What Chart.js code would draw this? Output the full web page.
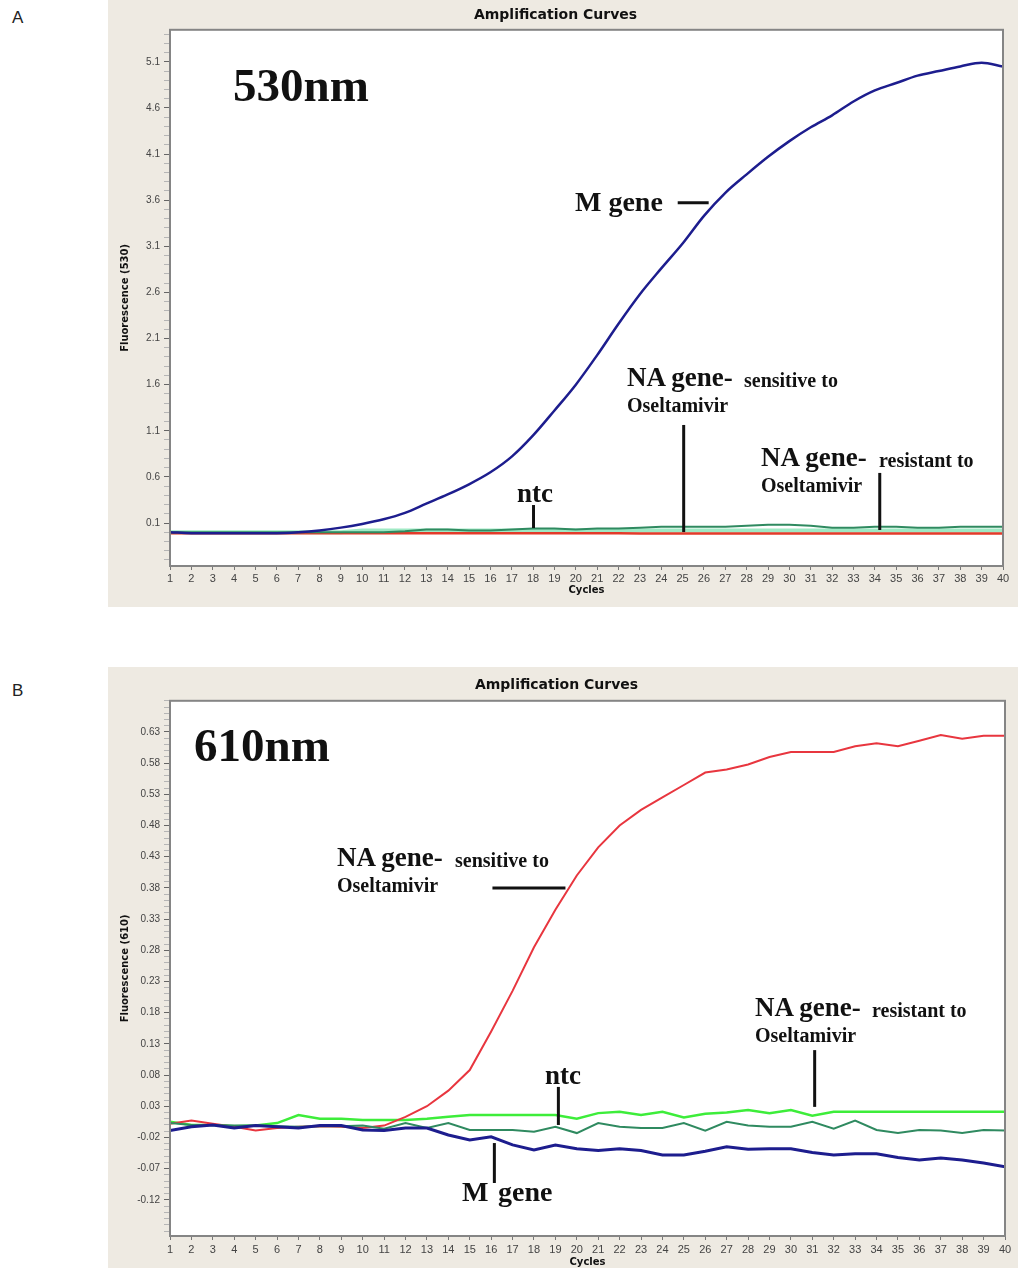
<!DOCTYPE html>
<html>
<head>
<meta charset="utf-8">
<script src="https://cdn.jsdelivr.net/npm/chart.js@4.4.1/dist/chart.umd.min.js"></script>
<style>
  html, body { margin: 0; padding: 0; background: #fff; }
  body { width: 1018px; height: 1268px; position: relative; overflow: hidden; font-family: Arial, 'Liberation Sans', sans-serif; }
  .panel { position: absolute; left: 108px; width: 910px; background: #eeeae2; }
  .letter { position: absolute; left: 12px; font-size: 17px; color: #222; }
  .lab { position: absolute; font-family: 'Liberation Serif', 'Times New Roman', serif; font-weight: bold; color: #111; white-space: nowrap; line-height: 1; }
</style>
</head>
<body>
<div class="letter" style="top:8px">A</div>
<div class="letter" style="top:681px">B</div>

<div class="panel" style="top:0; height:607px"><canvas id="chartA" width="910" height="607"></canvas></div>
<div class="panel" style="top:667px; height:601px"><canvas id="chartB" width="910" height="601"></canvas></div>

<!-- labels, panel A -->
<div class="lab" style="left:233px; top:62px; font-size:47px">530nm</div>
<div class="lab" style="left:575px; top:188px; font-size:28px">M gene</div>
<div class="lab" style="left:627px; top:364px; font-size:27px">NA gene-</div>
<div class="lab" style="left:744px; top:370px; font-size:20px">sensitive to</div>
<div class="lab" style="left:627px; top:395px; font-size:20px">Oseltamivir</div>
<div class="lab" style="left:517px; top:480px; font-size:27px">ntc</div>
<div class="lab" style="left:761px; top:444px; font-size:27px">NA gene-</div>
<div class="lab" style="left:879px; top:450px; font-size:20px">resistant to</div>
<div class="lab" style="left:761px; top:475px; font-size:20px">Oseltamivir</div>

<!-- labels, panel B -->
<div class="lab" style="left:194px; top:722px; font-size:47px">610nm</div>
<div class="lab" style="left:337px; top:844px; font-size:27px">NA gene-</div>
<div class="lab" style="left:455px; top:850px; font-size:20px">sensitive to</div>
<div class="lab" style="left:337px; top:875px; font-size:20px">Oseltamivir</div>
<div class="lab" style="left:545px; top:1062px; font-size:27px">ntc</div>
<div class="lab" style="left:755px; top:994px; font-size:27px">NA gene-</div>
<div class="lab" style="left:872px; top:1000px; font-size:20px">resistant to</div>
<div class="lab" style="left:755px; top:1025px; font-size:20px">Oseltamivir</div>
<div class="lab" style="left:462px; top:1178px; font-size:28px">M</div>
<div class="lab" style="left:498px; top:1178px; font-size:28px">gene</div>

<script>
const cycles = [1, 2, 3, 4, 5, 6, 7, 8, 9, 10, 11, 12, 13, 14, 15, 16, 17, 18, 19, 20,
  21, 22, 23, 24, 25, 26, 27, 28, 29, 30, 31, 32, 33, 34, 35, 36, 37, 38, 39, 40];

// 530 nm channel
const mGene530 = [0.0, -0.01, -0.01, -0.01, -0.01, -0.01, 0.0, 0.02, 0.05, 0.09,
  0.14, 0.21, 0.31, 0.41, 0.52, 0.65, 0.82, 1.05, 1.32, 1.6,
  1.92, 2.26, 2.58, 2.86, 3.13, 3.43, 3.68, 3.88, 4.07, 4.24,
  4.39, 4.52, 4.67, 4.79, 4.87, 4.95, 5.0, 5.05, 5.09, 5.05];
const naSens530 = [-0.01, -0.01, -0.01, -0.01, -0.01, -0.01, -0.01, -0.01, -0.01, -0.01,
  -0.01, -0.01, -0.01, -0.01, -0.01, -0.01, -0.01, -0.01, -0.01, -0.01,
  -0.01, -0.01, -0.015, -0.015, -0.015, -0.015, -0.015, -0.015, -0.015, -0.015,
  -0.015, -0.015, -0.015, -0.015, -0.015, -0.015, -0.015, -0.015, -0.015, -0.015];
const naRes530 = [0.0, 0.0, 0.0, 0.0, 0.0, 0.0, 0.0, 0.0, 0.0, 0.02,
  0.02, 0.02, 0.02, 0.02, 0.02, 0.02, 0.02, 0.02, 0.02, 0.02,
  0.02, 0.02, 0.02, 0.02, 0.02, 0.02, 0.02, 0.02, 0.02, 0.02,
  0.02, 0.02, 0.02, 0.02, 0.02, 0.02, 0.02, 0.02, 0.02, 0.02];
const ntc530 = [0.0, 0.0, 0.0, 0.0, 0.0, 0.0, 0.0, 0.0, 0.0, 0.0,
  0.0, 0.01, 0.03, 0.03, 0.02, 0.02, 0.03, 0.04, 0.04, 0.03,
  0.04, 0.04, 0.05, 0.06, 0.06, 0.06, 0.06, 0.07, 0.08, 0.08,
  0.07, 0.05, 0.05, 0.06, 0.06, 0.05, 0.05, 0.06, 0.06, 0.06];
const ticks530 = [0.1, 0.6, 1.1, 1.6, 2.1, 2.6, 3.1, 3.6, 4.1, 4.6, 5.1];

// 610 nm channel
const naSens610 = [0.002, 0.007, 0.002, -0.003, -0.009, -0.005, -0.003, -0.002, -0.003, -0.005,
  -0.001, 0.013, 0.03, 0.055, 0.088, 0.15, 0.215, 0.285, 0.345, 0.4,
  0.445, 0.48, 0.505, 0.525, 0.545, 0.565, 0.57, 0.578, 0.59, 0.598,
  0.598, 0.598, 0.607, 0.612, 0.607, 0.616, 0.625, 0.619, 0.624, 0.624];
const naRes610 = [0.005, 0.0, 0.0, -0.002, -0.001, 0.003, 0.016, 0.01, 0.01, 0.008,
  0.008, 0.008, 0.01, 0.013, 0.016, 0.016, 0.016, 0.016, 0.016, 0.01,
  0.019, 0.021, 0.016, 0.021, 0.012, 0.018, 0.02, 0.024, 0.019, 0.024,
  0.015, 0.021, 0.021, 0.021, 0.021, 0.021, 0.021, 0.021, 0.021, 0.021];
const ntc610 = [0.003, 0.0, 0.0, -0.001, -0.001, -0.002, -0.003, -0.002, -0.002, -0.001,
  -0.006, 0.003, -0.005, 0.003, -0.008, -0.008, -0.008, -0.011, -0.003, -0.013,
  0.003, -0.003, -0.005, -0.005, 0.003, -0.009, 0.005, -0.001, -0.003, -0.003,
  0.005, -0.006, 0.007, -0.008, -0.013, -0.008, -0.009, -0.013, -0.008, -0.009];
const mGene610 = [-0.009, -0.003, 0.0, -0.005, -0.001, -0.003, -0.005, -0.001, -0.001, -0.008,
  -0.009, -0.005, -0.005, -0.016, -0.024, -0.019, -0.032, -0.04, -0.032, -0.038,
  -0.041, -0.038, -0.041, -0.048, -0.048, -0.042, -0.035, -0.039, -0.038, -0.038,
  -0.044, -0.048, -0.046, -0.046, -0.052, -0.056, -0.053, -0.056, -0.061, -0.067];
const ticks610 = [-0.12, -0.07, -0.02, 0.03, 0.08, 0.13, 0.18, 0.23, 0.28, 0.33, 0.38, 0.43, 0.48, 0.53, 0.58, 0.63];

const colors = {
  mGene: '#1d1d8e',
  naSens: '#e33a2a',
  naSensB: '#e8363f',
  naRes: '#9fe9c4',
  naResB: '#3ded3a',
  ntc: '#2f8a60'
};

const toXY = vals => vals.map((v, i) => ({ x: cycles[i], y: v }));

const plotFrame = {
  id: 'plotFrame',
  beforeDraw(chart) {
    const { ctx, chartArea: a } = chart;
    ctx.save();
    ctx.fillStyle = '#ffffff';
    ctx.fillRect(a.left, a.top, a.right - a.left, a.bottom - a.top);
    ctx.restore();
  },
  afterDraw(chart) {
    const { ctx, chartArea: a } = chart;
    ctx.save();
    ctx.strokeStyle = '#858585';
    ctx.lineWidth = 2;
    ctx.strokeRect(a.left, a.top, a.right - a.left, a.bottom - a.top);
    ctx.restore();
  }
};

// leader lines from the labels to the curves, given in data units
const leaders = {
  id: 'leaders',
  afterDatasetsDraw(chart, args, opts) {
    const { ctx, scales: { x, y } } = chart;
    ctx.save();
    ctx.strokeStyle = '#111';
    ctx.lineWidth = 3;
    (opts.segments || []).forEach(s => {
      ctx.beginPath();
      ctx.moveTo(x.getPixelForValue(s.x1), y.getPixelForValue(s.y1));
      ctx.lineTo(x.getPixelForValue(s.x2), y.getPixelForValue(s.y2));
      ctx.stroke();
    });
    ctx.restore();
  }
};

function makeChart(id, cfg) {
  const minor = cfg.minorStep;
  return new Chart(document.getElementById(id), {
    type: 'line',
    data: { datasets: cfg.datasets },
    plugins: [plotFrame, leaders],
    options: {
      responsive: false,
      animation: false,
      layout: { padding: { left: 0, right: cfg.padRight, top: 0, bottom: 0 } },
      elements: { point: { radius: 0 } },
      plugins: {
        legend: { display: false },
        tooltip: { enabled: false },
        title: {
          display: true,
          text: 'Amplification Curves',
          color: '#111',
          font: { family: 'DejaVu Sans', size: 14, weight: 'bold' },
          padding: cfg.titlePad
        },
        leaders: { segments: cfg.segments }
      },
      scales: {
        x: {
          type: 'linear',
          min: 1,
          max: 40,
          afterBuildTicks: s => { s.ticks = cycles.map(c => ({ value: c })); },
          afterFit: s => { s.height = cfg.xHeight; },
          ticks: {
            autoSkip: false,
            maxRotation: 0,
            padding: cfg.xTickPad,
            color: '#444',
            font: { family: 'Liberation Sans', size: 11 },
            callback: v => String(v)
          },
          grid: { drawOnChartArea: false, tickLength: 4, color: '#777' },
          border: { color: '#858585', width: 2 },
          title: {
            display: true,
            text: 'Cycles',
            color: '#111',
            font: { family: 'DejaVu Sans', size: 10, weight: 'bold' },
            padding: { top: 0, bottom: cfg.xTitlePad }
          }
        },
        y: {
          type: 'linear',
          min: cfg.yMin,
          max: cfg.yMax,
          afterBuildTicks: s => {
            const out = [];
            const lo = Math.ceil(cfg.yMin / minor), hi = Math.floor(cfg.yMax / minor);
            for (let i = lo; i <= hi; i++) {
              const v = +(i * minor).toFixed(3);
              out.push({ value: v, major: cfg.yTicks.some(t => Math.abs(t - v) < minor / 10) });
            }
            s.ticks = out;
          },
          afterFit: s => { s.width = 62; },
          ticks: {
            autoSkip: false,
            padding: 4,
            color: '#444',
            font: { family: 'Liberation Sans', size: 10 },
            callback: function (v) {
              return cfg.yTicks.some(t => Math.abs(t - v) < minor / 10) ? v.toFixed(cfg.decimals) : '';
            }
          },
          grid: {
            drawOnChartArea: false,
            tickLength: 6,
            color: ctx => (ctx.tick && ctx.tick.major ? '#666' : '#b5b5b5')
          },
          border: { color: '#858585', width: 2 },
          title: {
            display: true,
            text: cfg.yTitle,
            color: '#111',
            font: { family: 'DejaVu Sans', size: 10, weight: 'bold' },
            padding: { top: 11, bottom: 0 }
          }
        }
      }
    }
  });
}

makeChart('chartA', {
  datasets: [
    { label: 'M gene', data: toXY(mGene530), borderColor: colors.mGene, borderWidth: 2.5, cubicInterpolationMode: 'monotone' },
    { label: 'ntc', data: toXY(ntc530), borderColor: colors.ntc, borderWidth: 2 },
    { label: 'NA gene - sensitive to Oseltamivir', data: toXY(naSens530), borderColor: colors.naSens, borderWidth: 2.5 },
    { label: 'NA gene - resistant to Oseltamivir', data: toXY(naRes530), borderColor: colors.naRes, borderWidth: 4 }
  ],
  yMin: -0.366, yMax: 5.447, yTicks: ticks530, minorStep: 0.1, decimals: 1,
  yTitle: 'Fluorescence (530)',
  padRight: 15, titlePad: { top: 7, bottom: 6 },
  xHeight: 41, xTickPad: 2, xTitlePad: 11,
  segments: [
    { x1: 24.77, y1: 3.572, x2: 26.22, y2: 3.572 },
    { x1: 25.05, y1: 1.163, x2: 25.05, y2: 0.002 },
    { x1: 34.23, y1: 0.643, x2: 34.23, y2: 0.024 },
    { x1: 18.02, y1: 0.295, x2: 18.02, y2: 0.046 }
  ]
});

makeChart('chartB', {
  datasets: [
    { label: 'M gene', data: toXY(mGene610), borderColor: colors.mGene, borderWidth: 3 },
    { label: 'ntc', data: toXY(ntc610), borderColor: colors.ntc, borderWidth: 2 },
    { label: 'NA gene - sensitive to Oseltamivir', data: toXY(naSens610), borderColor: colors.naSensB, borderWidth: 2 },
    { label: 'NA gene - resistant to Oseltamivir', data: toXY(naRes610), borderColor: colors.naResB, borderWidth: 2.5 }
  ],
  yMin: -0.178, yMax: 0.68, yTicks: ticks610, minorStep: 0.01, decimals: 2,
  yTitle: 'Fluorescence (610)',
  padRight: 13, titlePad: { top: 10, bottom: 7 },
  xHeight: 32, xTickPad: 3, xTitlePad: 0,
  segments: [
    { x1: 16.06, y1: 0.38, x2: 19.47, y2: 0.38 },
    { x1: 19.14, y1: 0.061, x2: 19.14, y2: 0.0 },
    { x1: 31.11, y1: 0.12, x2: 31.11, y2: 0.029 },
    { x1: 16.15, y1: -0.029, x2: 16.15, y2: -0.093 }
  ]
});
</script>
</body>
</html>
